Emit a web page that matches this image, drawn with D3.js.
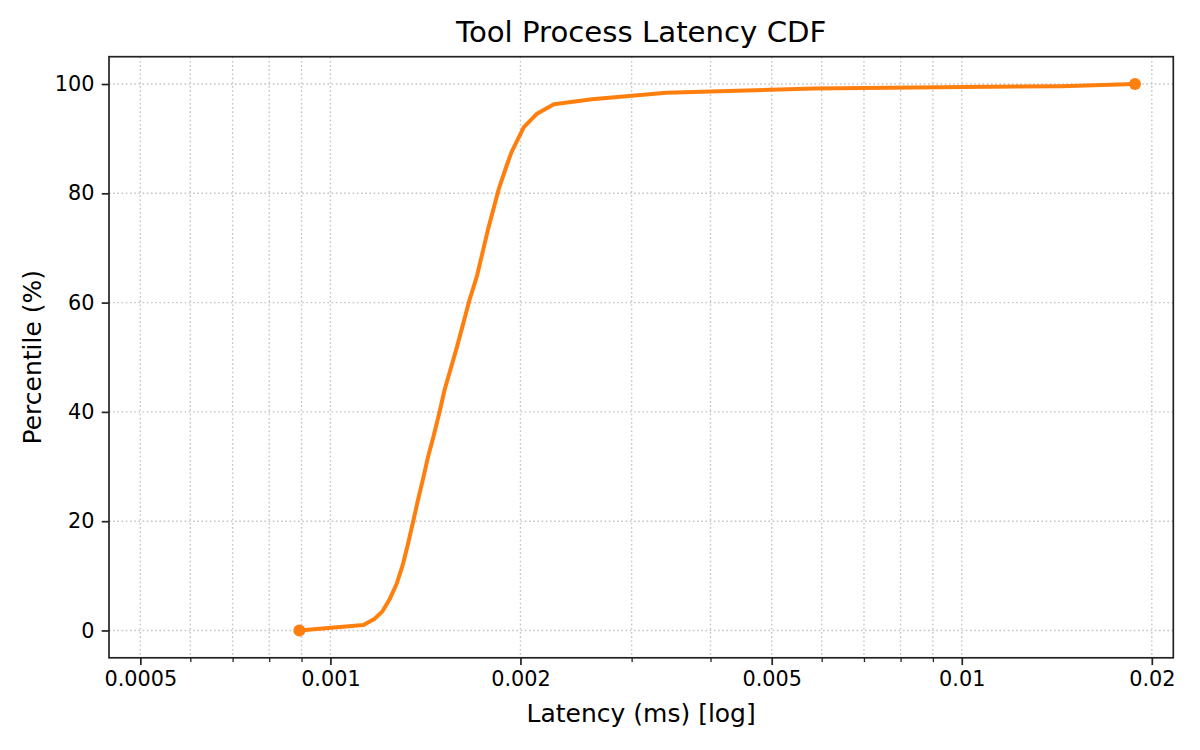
<!DOCTYPE html>
<html>
<head>
<meta charset="utf-8">
<script src="https://cdn.jsdelivr.net/npm/d3@7"></script>
<style>
  body { margin: 0; background: #fff; }
  svg { display: block; font-family: "DejaVu Sans", sans-serif; }
</style>
</head>
<body>
<svg id="chart" width="1200" height="750"></svg>
<script>
// CDF points (latency in ms, percentile in %)
const latencyMs = [0.000893, 0.001128, 0.001174, 0.001209, 0.001241, 0.001273, 0.001302,
  0.001325, 0.001351, 0.001374, 0.001401, 0.001426, 0.001457, 0.001489, 0.001517,
  0.001586, 0.001662, 0.001707, 0.001777, 0.001848, 0.001901, 0.001935, 0.002025,
  0.002121, 0.002259, 0.002596, 0.003402, 0.00584, 0.01007, 0.01436, 0.01881];
const percentile = [0, 1.0, 2.1, 3.5, 5.7, 8.5, 12, 15.5, 19.7, 23.5, 27.6, 31.5, 35.6,
  40, 44.1, 51.8, 60.6, 64.9, 73.4, 80.8, 85, 87.5, 92.1, 94.5, 96.3, 97.2, 98.4,
  99.2, 99.45, 99.6, 100];

const xMajorTicks = [0.0005, 0.001, 0.002, 0.005, 0.01, 0.02];
const xTickLabels = ["0.0005", "0.001", "0.002", "0.005", "0.01", "0.02"];
const xMinorTicks = [0.0006, 0.0007, 0.0008, 0.0009, 0.003, 0.004, 0.006, 0.007, 0.008, 0.009];
const yTicks = [0, 20, 40, 60, 80, 100];

const xDomain = [0.000446, 0.02163];
const yDomain = [-5, 105];

const svg = d3.select("#chart");
const mLeft = 109, mRight = 1173.3, mTop = 56.7, mBottom = 657.8;

const x = d3.scaleLog().domain(xDomain).range([mLeft, mRight]);
const y = d3.scaleLinear().domain(yDomain).range([mBottom, mTop]);

// grid (dotted, major + minor on x)
const grid = svg.append("g")
  .attr("stroke", "#c4c4c4")
  .attr("stroke-width", 1.4)
  .attr("stroke-dasharray", "1.6,2.6");

grid.selectAll("line.vx")
  .data(xMajorTicks.concat(xMinorTicks))
  .enter()
  .append("line")
  .attr("x1", d => x(d)).attr("x2", d => x(d))
  .attr("y1", mTop).attr("y2", mBottom);

grid.selectAll("line.hy")
  .data(yTicks)
  .enter()
  .append("line")
  .attr("x1", mLeft).attr("x2", mRight)
  .attr("y1", d => y(d)).attr("y2", d => y(d));

// x axis
const xAxis = d3.axisBottom(x)
  .tickValues(xMajorTicks)
  .tickFormat((d, i) => xTickLabels[i])
  .tickSizeInner(7.3)
  .tickSizeOuter(0)
  .tickPadding(6);

const gx = svg.append("g")
  .attr("transform", `translate(0,${mBottom})`)
  .call(xAxis);
gx.select(".domain").remove();
gx.selectAll("line").attr("stroke", "#222").attr("stroke-width", 1.7);
gx.selectAll("text")
  .attr("font-size", "20.8px")
  .attr("font-family", "DejaVu Sans")
  .attr("fill", "#000");

const xMinorAxis = d3.axisBottom(x)
  .tickValues(xMinorTicks)
  .tickFormat("")
  .tickSizeInner(4.2)
  .tickSizeOuter(0);
const gxm = svg.append("g")
  .attr("transform", `translate(0,${mBottom})`)
  .call(xMinorAxis);
gxm.select(".domain").remove();
gxm.selectAll("line").attr("stroke", "#222").attr("stroke-width", 1.3);

// y axis
const yAxis = d3.axisLeft(y)
  .tickValues(yTicks)
  .tickSizeInner(7.3)
  .tickSizeOuter(0)
  .tickPadding(7.3);
const gy = svg.append("g")
  .attr("transform", `translate(${mLeft},0)`)
  .call(yAxis);
gy.select(".domain").remove();
gy.selectAll("line").attr("stroke", "#222").attr("stroke-width", 1.7);
gy.selectAll("text")
  .attr("font-size", "20.8px")
  .attr("font-family", "DejaVu Sans")
  .attr("fill", "#000");

// frame
svg.append("rect")
  .attr("x", mLeft).attr("y", mTop)
  .attr("width", mRight - mLeft).attr("height", mBottom - mTop)
  .attr("fill", "none")
  .attr("stroke", "#222")
  .attr("stroke-width", 1.7);

// the CDF line
const pts = latencyMs.map((v, i) => [v, percentile[i]]);
const line = d3.line().x(d => x(d[0])).y(d => y(d[1]));

svg.append("path")
  .datum(pts)
  .attr("d", line)
  .attr("fill", "none")
  .attr("stroke", "#ff7f0e")
  .attr("stroke-width", 4)
  .attr("stroke-linejoin", "round")
  .attr("stroke-linecap", "butt");

// markers on first and last points only
svg.selectAll("circle.end")
  .data([pts[0], pts[pts.length - 1]])
  .enter()
  .append("circle")
  .attr("class", "end")
  .attr("cx", d => x(d[0]))
  .attr("cy", d => y(d[1]))
  .attr("r", 6)
  .attr("fill", "#ff7f0e");

// texts
svg.append("text")
  .attr("x", (mLeft + mRight) / 2)
  .attr("y", 42)
  .attr("text-anchor", "middle")
  .attr("font-size", "29.2px")
  .attr("fill", "#000")
  .text("Tool Process Latency CDF");

svg.append("text")
  .attr("x", (mLeft + mRight) / 2)
  .attr("y", 722)
  .attr("text-anchor", "middle")
  .attr("font-size", "25px")
  .attr("fill", "#000")
  .text("Latency (ms) [log]");

svg.append("text")
  .attr("transform", `translate(41,${(mTop + mBottom) / 2}) rotate(-90)`)
  .attr("text-anchor", "middle")
  .attr("font-size", "25px")
  .attr("fill", "#000")
  .text("Percentile (%)");
</script>
</body>
</html>
